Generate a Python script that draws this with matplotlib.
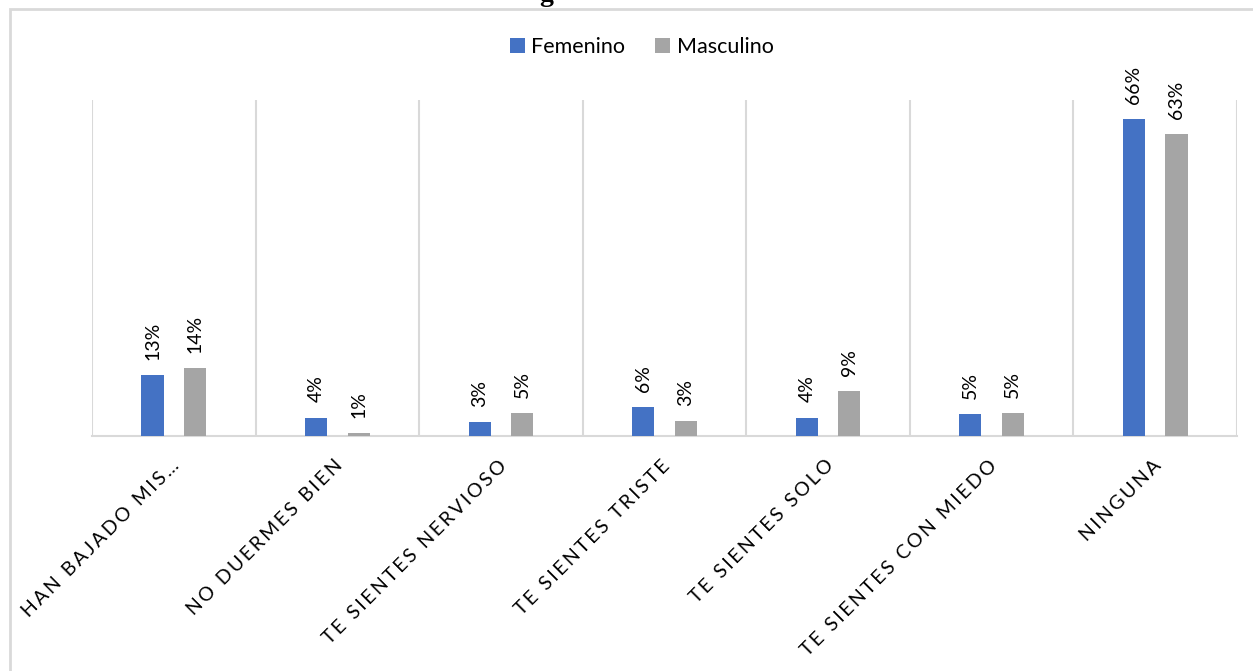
import matplotlib.pyplot as plt
from matplotlib.patches import Rectangle

# datos del grafico
categorias = ['HAN BAJADO MIS…', 'NO DUERMES BIEN', 'TE SIENTES NERVIOSO',
              'TE SIENTES TRISTE', 'TE SIENTES SOLO', 'TE SIENTES CON MIEDO',
              'NINGUNA']
femenino = [12.7, 3.8, 2.9, 6.0, 3.8, 4.6, 66.0]
masculino = [14.1, 0.6, 4.8, 3.1, 9.3, 4.8, 62.9]
etq_fem = ['13%', '4%', '3%', '6%', '4%', '5%', '66%']
etq_mas = ['14%', '1%', '5%', '3%', '9%', '5%', '63%']

azul = '#4472c4'
gris = '#a5a5a5'
linea = '#d9d9d9'

plt.rcParams['font.family'] = ['Lato', 'DejaVu Sans']


def espaciar(t):
    # Excel dibuja las etiquetas con letras separadas
    return '\u2009'.join(t)


fig = plt.figure(figsize=(12.53, 6.71), dpi=100)

# borde del area del grafico (recortado en la imagen)
fig.patches.append(Rectangle((10 / 1253, -0.1), 1.2, 1 - 9 / 671 + 0.1,
                             transform=fig.transFigure, fill=False,
                             edgecolor=linea, linewidth=2))

# trozo del titulo que se ve arriba
fig.text(0.43, 1 - 1 / 671, 'g', family='Liberation Serif', weight='bold',
         fontsize=20, ha='left', va='baseline')

ax = fig.add_axes([92 / 1253, 1 - 436 / 671, (1237 - 92) / 1253, 336 / 671])

x = list(range(len(categorias)))
w = 0.135
off = 0.13
xf = [i - off for i in x]
xm = [i + off for i in x]
bf = ax.bar(xf, femenino, w, color=azul, label='Femenino', zorder=3)
bm = ax.bar(xm, masculino, w, color=gris, label='Masculino', zorder=3)

for xi, v, t in zip(xf, femenino, etq_fem):
    ax.text(xi, v + 3.2, t, rotation=90, ha='center', va='bottom', fontsize=14)
for xi, v, t in zip(xm, masculino, etq_mas):
    ax.text(xi, v + 3.2, t, rotation=90, ha='center', va='bottom', fontsize=14)

ax.set_xlim(-0.5, 6.5)
ax.set_ylim(0, 70)
for b in range(len(categorias) + 1):
    ax.axvline(b - 0.5, color=linea, linewidth=1.5, zorder=1)

for s in ['top', 'left', 'right']:
    ax.spines[s].set_visible(False)
ax.spines['bottom'].set_color(linea)
ax.spines['bottom'].set_linewidth(1.5)
ax.set_yticks([])
ax.set_xticks([i - 0.02 for i in x])
ax.set_xticklabels([espaciar(c) for c in categorias], rotation=45, ha='right',
                   rotation_mode='anchor', fontsize=14)
ax.tick_params(axis='x', length=0, pad=15)

fig.legend(handles=[bf, bm], loc='center', bbox_to_anchor=(0.512, 1 - 47 / 671),
           ncol=2, frameon=False, fontsize=15.5, handlelength=0.7,
           handleheight=0.7, columnspacing=1.4, handletextpad=0.3)

fig.savefig('out.png', dpi=100)
